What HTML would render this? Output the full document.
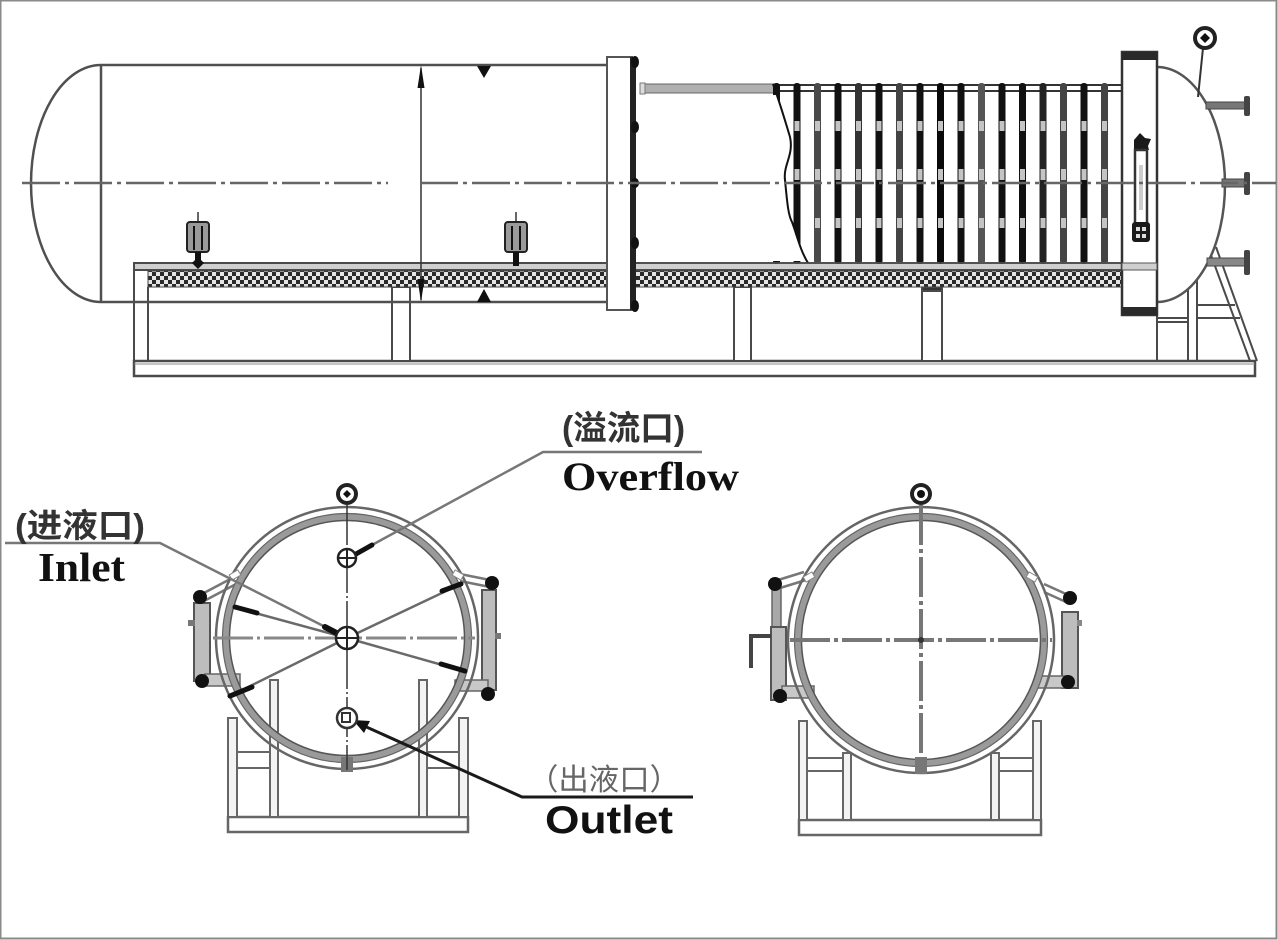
<!DOCTYPE html>
<html><head><meta charset="utf-8"><style>
html,body{margin:0;padding:0;background:#fff;}
svg{display:block;}
</style></head><body>
<svg width="1278" height="940" viewBox="0 0 1278 940" xmlns="http://www.w3.org/2000/svg">
<defs>
<pattern id="chk" width="8" height="8" patternUnits="userSpaceOnUse">
<rect width="8" height="8" fill="#e6e6e6"/>
<rect width="4" height="4" fill="#2a2a2a"/>
<rect x="4" y="4" width="4" height="4" fill="#2a2a2a"/>
</pattern>
</defs>
<rect x="0.5" y="0.5" width="1276" height="938" fill="#fff" stroke="#8a8a8a" stroke-width="2"/>

<!-- ================= TOP VIEW ================= -->
<g stroke="#4a4a4a" stroke-width="2" fill="none">
<rect x="134" y="263" width="1023" height="7" fill="#cfcfcf"/>
<line x1="134" y1="263" x2="134" y2="376"/>
<line x1="148" y1="287" x2="148" y2="361"/>
<rect x="134" y="361" width="1121" height="15" fill="#fff" stroke-width="2.5"/>
<line x1="134" y1="364" x2="1255" y2="364" stroke="#888" stroke-width="1"/>
<rect x="392" y="287" width="18" height="74" fill="#fff"/>
<rect x="734" y="287" width="17" height="74" fill="#fff"/>
<rect x="922" y="287" width="20" height="74" fill="#fff"/>
<rect x="922" y="287" width="20" height="4" fill="#333"/>
<line x1="1157" y1="315" x2="1157" y2="361"/>
<line x1="1188" y1="280" x2="1188" y2="361"/>
<line x1="1197" y1="275" x2="1197" y2="361"/>
<line x1="1157" y1="318" x2="1188" y2="318"/>
<line x1="1157" y1="322" x2="1188" y2="322"/>
<line x1="1197" y1="305" x2="1235" y2="305"/>
<line x1="1197" y1="318" x2="1240" y2="318"/>
<line x1="1208" y1="247" x2="1250" y2="361"/>
<line x1="1216" y1="247" x2="1257" y2="361"/>
</g>
<rect x="148" y="271" width="974" height="16" fill="url(#chk)" stroke="#444" stroke-width="1"/>

<g stroke="#505050" stroke-width="2.5" fill="none">
<line x1="101" y1="65" x2="607" y2="65"/>
<line x1="101" y1="302" x2="607" y2="302"/>
<line x1="101" y1="65" x2="101" y2="302"/>
<path d="M101,65 A70 118.5 0 0 0 101,302"/>
</g>
<line x1="421" y1="68" x2="421" y2="300" stroke="#333" stroke-width="1.5"/>
<path d="M421,65 L417.5,88 L424.5,88 Z" fill="#111"/>
<path d="M421,302 L417.5,279 L424.5,279 Z" fill="#111"/>
<path d="M477,66 L491,66 L484,78 Z" fill="#111"/>
<path d="M477,302 L491,302 L484,289 Z" fill="#111"/>

<g>
<line x1="198" y1="212" x2="198" y2="222" stroke="#333" stroke-width="1.5"/>
<rect x="187" y="222" width="22" height="30" rx="3" fill="#9a9a9a" stroke="#222" stroke-width="2"/>
<line x1="194" y1="226" x2="194" y2="250" stroke="#111" stroke-width="2"/>
<line x1="202" y1="226" x2="202" y2="250" stroke="#111" stroke-width="2"/>
<rect x="195" y="252" width="6" height="9" fill="#111"/>
<path d="M198,257 L204,263 L198,269 L192,263 Z" fill="#111"/>
<line x1="516" y1="212" x2="516" y2="222" stroke="#333" stroke-width="1.5"/>
<rect x="505" y="222" width="22" height="30" rx="3" fill="#9a9a9a" stroke="#222" stroke-width="2"/>
<line x1="512" y1="226" x2="512" y2="250" stroke="#111" stroke-width="2"/>
<line x1="520" y1="226" x2="520" y2="250" stroke="#111" stroke-width="2"/>
<rect x="513" y="252" width="6" height="14" fill="#111"/>
</g>

<rect x="607" y="57" width="25" height="253" fill="#fff" stroke="#555" stroke-width="2"/>
<rect x="630" y="57" width="6" height="253" fill="#222"/>
<g fill="#111">
<ellipse cx="635" cy="62" rx="4" ry="6"/>
<ellipse cx="635" cy="127" rx="4" ry="6"/>
<ellipse cx="635" cy="183" rx="4" ry="5"/>
<ellipse cx="635" cy="243" rx="4" ry="6"/>
<ellipse cx="635" cy="306" rx="4" ry="6"/>
</g>
<rect x="640" y="84" width="136" height="9" fill="#b0b0b0" stroke="#666" stroke-width="1"/>
<rect x="640" y="83" width="5" height="11" fill="#ddd" stroke="#777" stroke-width="1"/>
<line x1="775" y1="85" x2="1122" y2="85" stroke="#333" stroke-width="2"/>
<line x1="775" y1="91" x2="1122" y2="91" stroke="#333" stroke-width="2"/>

<g>
<rect x="773" y="83" width="7" height="181" rx="3" fill="#111"/>
<rect x="793.5" y="83" width="7" height="181" rx="3" fill="#111"/>
<rect x="814" y="83" width="7" height="181" rx="3" fill="#4a4a4a"/>
<rect x="834.5" y="83" width="7" height="181" rx="3" fill="#111"/>
<rect x="855" y="83" width="7" height="181" rx="3" fill="#333"/>
<rect x="875.5" y="83" width="7" height="181" rx="3" fill="#111"/>
<rect x="896" y="83" width="7" height="181" rx="3" fill="#444"/>
<rect x="916.5" y="83" width="7" height="181" rx="3" fill="#111"/>
<rect x="937" y="83" width="7" height="181" rx="3" fill="#0a0a0a"/>
<rect x="957.5" y="83" width="7" height="181" rx="3" fill="#111"/>
<rect x="978" y="83" width="7" height="181" rx="3" fill="#555"/>
<rect x="998.5" y="83" width="7" height="181" rx="3" fill="#111"/>
<rect x="1019" y="83" width="7" height="181" rx="3" fill="#111"/>
<rect x="1039.5" y="83" width="7" height="181" rx="3" fill="#222"/>
<rect x="1060" y="83" width="7" height="181" rx="3" fill="#444"/>
<rect x="1080.5" y="83" width="7" height="181" rx="3" fill="#111"/>
<rect x="1101" y="83" width="7" height="181" rx="3" fill="#444"/>
</g>
<g fill="#c4c4c4">
<rect x="794.5" y="121" width="5" height="10"/><rect x="794.5" y="169" width="5" height="11"/>
<rect x="815" y="121" width="5" height="10"/><rect x="815" y="169" width="5" height="11"/><rect x="815" y="218" width="5" height="10"/>
<rect x="835.5" y="121" width="5" height="10"/><rect x="835.5" y="169" width="5" height="11"/><rect x="835.5" y="218" width="5" height="10"/>
<rect x="856" y="121" width="5" height="10"/><rect x="856" y="169" width="5" height="11"/><rect x="856" y="218" width="5" height="10"/>
<rect x="876.5" y="121" width="5" height="10"/><rect x="876.5" y="169" width="5" height="11"/><rect x="876.5" y="218" width="5" height="10"/>
<rect x="897" y="121" width="5" height="10"/><rect x="897" y="169" width="5" height="11"/><rect x="897" y="218" width="5" height="10"/>
<rect x="917.5" y="121" width="5" height="10"/><rect x="917.5" y="169" width="5" height="11"/><rect x="917.5" y="218" width="5" height="10"/>
<rect x="938" y="121" width="5" height="10"/><rect x="938" y="169" width="5" height="11"/><rect x="938" y="218" width="5" height="10"/>
<rect x="958.5" y="121" width="5" height="10"/><rect x="958.5" y="169" width="5" height="11"/><rect x="958.5" y="218" width="5" height="10"/>
<rect x="979" y="121" width="5" height="10"/><rect x="979" y="169" width="5" height="11"/><rect x="979" y="218" width="5" height="10"/>
<rect x="999.5" y="121" width="5" height="10"/><rect x="999.5" y="169" width="5" height="11"/><rect x="999.5" y="218" width="5" height="10"/>
<rect x="1020" y="121" width="5" height="10"/><rect x="1020" y="169" width="5" height="11"/><rect x="1020" y="218" width="5" height="10"/>
<rect x="1040.5" y="121" width="5" height="10"/><rect x="1040.5" y="169" width="5" height="11"/><rect x="1040.5" y="218" width="5" height="10"/>
<rect x="1061" y="121" width="5" height="10"/><rect x="1061" y="169" width="5" height="11"/><rect x="1061" y="218" width="5" height="10"/>
<rect x="1081.5" y="121" width="5" height="10"/><rect x="1081.5" y="169" width="5" height="11"/><rect x="1081.5" y="218" width="5" height="10"/>
<rect x="1102" y="121" width="5" height="10"/><rect x="1102" y="169" width="5" height="11"/><rect x="1102" y="218" width="5" height="10"/>
</g>
<path d="M760,95 L777,95 C780,105 784,118 790,137 C794,155 783,165 785,180 C787,200 788,215 792,222 C797,235 800,250 807,261 L760,261 Z" fill="#fff"/>
<path d="M773,84 C777,95 782,110 790,137 C794,155 783,165 785,180 C787,200 788,215 792,222 C797,235 800,250 808,263" fill="none" stroke="#111" stroke-width="2"/>
<line x1="640" y1="263" x2="1122" y2="263" stroke="#555" stroke-width="1.5"/>

<path d="M1157,67 A68 117.5 0 0 1 1157,302" fill="#fff" stroke="#555" stroke-width="2.5"/>
<rect x="1122" y="52" width="35" height="263" fill="#fff" stroke="#333" stroke-width="2.5"/>
<rect x="1122" y="52" width="35" height="8" fill="#2a2a2a"/>
<rect x="1122" y="307" width="35" height="8" fill="#2a2a2a"/>
<rect x="1122" y="263" width="35" height="7" fill="#cfcfcf" stroke="#555" stroke-width="1"/>
<path d="M1134,150 L1134,140 L1140,133 L1145,138 L1151,139 L1148,146 L1149,150 Z" fill="#1a1a1a"/>
<rect x="1135" y="150" width="12" height="74" fill="#fff" stroke="#333" stroke-width="2.5"/>
<rect x="1139" y="165" width="4" height="45" fill="#ccc"/>
<rect x="1132" y="222" width="18" height="20" rx="3" fill="#1a1a1a"/>
<rect x="1136" y="227" width="4" height="4" fill="#ddd"/><rect x="1142" y="227" width="4" height="4" fill="#ddd"/>
<rect x="1136" y="234" width="4" height="4" fill="#ddd"/><rect x="1142" y="234" width="4" height="4" fill="#ddd"/>
<g>
<rect x="1206" y="102" width="40" height="7" fill="#777" stroke="#444" stroke-width="1"/>
<rect x="1244" y="96" width="6" height="20" rx="2" fill="#444"/>
<rect x="1222" y="179" width="24" height="8" fill="#777" stroke="#444" stroke-width="1"/>
<rect x="1244" y="172" width="6" height="23" rx="2" fill="#444"/>
<rect x="1207" y="258" width="39" height="8" fill="#888" stroke="#444" stroke-width="1"/>
<rect x="1244" y="250" width="6" height="25" rx="2" fill="#444"/>
</g>
<line x1="1203" y1="48" x2="1198" y2="97" stroke="#333" stroke-width="2"/>
<circle cx="1205" cy="38" r="12" fill="#222"/>
<circle cx="1205" cy="38" r="8" fill="#fff"/>
<path d="M1205,33 L1210,38 L1205,43 L1200,38 Z" fill="#111"/>

<line x1="22" y1="183" x2="388" y2="183" stroke="#666" stroke-width="2.5" stroke-dasharray="38 5 4 5"/>
<line x1="420" y1="183" x2="1276" y2="183" stroke="#666" stroke-width="2.5" stroke-dasharray="38 5 4 5"/>

<!-- ================= LEFT END VIEW ================= -->
<g stroke="#666" stroke-width="2" fill="#f3f3f3">
<rect x="228" y="817" width="240" height="15" fill="#fff" stroke-width="2.5"/>
<rect x="228" y="718" width="9" height="99"/>
<rect x="459" y="718" width="9" height="99"/>
<rect x="270" y="680" width="8" height="137"/>
<rect x="419" y="680" width="8" height="137"/>
<line x1="237" y1="752" x2="270" y2="752"/><line x1="237" y1="768" x2="270" y2="768"/>
<line x1="427" y1="752" x2="459" y2="752"/><line x1="427" y1="768" x2="459" y2="768"/>
</g>
<g>
<path d="M202,594 L236,576 M204,601 L238,583" stroke="#777" stroke-width="2.5"/>
<rect x="194" y="603" width="16" height="78" fill="#bdbdbd" stroke="#555" stroke-width="2"/>
<rect x="188" y="620" width="7" height="6" fill="#777"/>
<rect x="205" y="674" width="35" height="12" fill="#c8c8c8" stroke="#666" stroke-width="1.5"/>
<circle cx="200" cy="597" r="7" fill="#111"/>
<circle cx="202" cy="681" r="7" fill="#111"/>
<path d="M490,580 L460,574 M490,587 L460,581" stroke="#777" stroke-width="2.5"/>
<rect x="482" y="590" width="14" height="100" fill="#bdbdbd" stroke="#555" stroke-width="2"/>
<rect x="495" y="633" width="6" height="6" fill="#777"/>
<rect x="455" y="680" width="33" height="11" fill="#c8c8c8" stroke="#666" stroke-width="1.5"/>
<circle cx="492" cy="583" r="7" fill="#111"/>
<circle cx="488" cy="694" r="7" fill="#111"/>
</g>
<circle cx="347" cy="638" r="131" fill="none" stroke="#666" stroke-width="2.5"/>
<circle cx="347" cy="638" r="121" fill="none" stroke="#9a9a9a" stroke-width="7"/>
<circle cx="347" cy="638" r="124.5" fill="none" stroke="#666" stroke-width="1.2"/>
<circle cx="347" cy="638" r="117.5" fill="none" stroke="#555" stroke-width="1.5"/>
<rect x="341" y="757" width="12" height="15" fill="#777"/>
<rect x="230" y="572" width="10" height="6" fill="#fff" stroke="#888" stroke-width="1" transform="rotate(-30 235 575)"/>
<rect x="453" y="572" width="10" height="6" fill="#fff" stroke="#888" stroke-width="1" transform="rotate(30 458 575)"/>
<line x1="213" y1="638" x2="475" y2="638" stroke="#888" stroke-width="3" stroke-dasharray="40 4 3 4"/>
<line x1="347" y1="505" x2="347" y2="770" stroke="#333" stroke-width="1.5" stroke-dasharray="40 3 2 3"/>
<g stroke="#6a6a6a" stroke-width="2.5">
<line x1="347" y1="638" x2="233" y2="607"/>
<line x1="347" y1="638" x2="228" y2="697"/>
<line x1="347" y1="638" x2="463" y2="583"/>
<line x1="347" y1="638" x2="467" y2="672"/>
</g>
<g stroke="#111" stroke-width="5" stroke-linecap="round">
<line x1="235" y1="607" x2="257" y2="613"/>
<line x1="230" y1="696" x2="252" y2="687"/>
<line x1="461" y1="584" x2="442" y2="591"/>
<line x1="465" y1="671" x2="441" y2="664"/>
</g>
<polyline points="5,543 160,543 347,638" fill="none" stroke="#777" stroke-width="2.5"/>
<line x1="325" y1="627" x2="350" y2="640" stroke="#111" stroke-width="6" stroke-linecap="round"/>
<polyline points="702,452 543,452 372,545" fill="none" stroke="#777" stroke-width="2.5"/>
<line x1="372" y1="545" x2="356" y2="554" stroke="#111" stroke-width="5" stroke-linecap="round"/>
<polyline points="693,797 522,797 362,725" fill="none" stroke="#1a1a1a" stroke-width="3"/>
<path d="M353,720 L370,721 L364,733 Z" fill="#111"/>
<circle cx="347" cy="494" r="11" fill="#222"/>
<circle cx="347" cy="494" r="7" fill="#fff"/>
<path d="M347,490 L351,494 L347,498 L343,494 Z" fill="#111"/>
<circle cx="347" cy="558" r="9" fill="#fff" stroke="#222" stroke-width="2.5"/>
<path d="M338,558 H356 M347,549 V567" stroke="#222" stroke-width="2"/>
<circle cx="347" cy="638" r="11" fill="#fff" stroke="#222" stroke-width="2.5"/>
<path d="M336,638 H358 M347,627 V649" stroke="#222" stroke-width="2"/>
<circle cx="347" cy="718" r="10" fill="#fff" stroke="#333" stroke-width="2.5"/>
<rect x="342" y="713" width="8" height="9" fill="none" stroke="#333" stroke-width="2"/>

<!-- ================= RIGHT END VIEW ================= -->
<g stroke="#666" stroke-width="2" fill="#f3f3f3">
<rect x="799" y="820" width="242" height="15" fill="#fff" stroke-width="2.5"/>
<rect x="799" y="721" width="8" height="99"/>
<rect x="1033" y="721" width="8" height="99"/>
<rect x="843" y="753" width="8" height="67"/>
<rect x="991" y="753" width="8" height="67"/>
<line x1="807" y1="758" x2="843" y2="758"/><line x1="807" y1="771" x2="843" y2="771"/>
<line x1="999" y1="758" x2="1033" y2="758"/><line x1="999" y1="771" x2="1033" y2="771"/>
</g>
<g>
<path d="M778,580 L804,572 M780,588 L806,580" stroke="#777" stroke-width="2.5"/>
<rect x="772" y="588" width="9" height="40" fill="#a8a8a8" stroke="#666" stroke-width="1.5"/>
<rect x="771" y="627" width="15" height="73" fill="#bdbdbd" stroke="#555" stroke-width="2"/>
<polyline points="771,636 751,636 751,668" fill="none" stroke="#444" stroke-width="4"/>
<rect x="782" y="686" width="32" height="12" fill="#c8c8c8" stroke="#666" stroke-width="1.5"/>
<circle cx="775" cy="584" r="7" fill="#111"/>
<circle cx="780" cy="696" r="7" fill="#111"/>
<path d="M1066,594 L1044,584 M1066,602 L1044,592" stroke="#777" stroke-width="2.5"/>
<rect x="1062" y="612" width="16" height="76" fill="#bdbdbd" stroke="#555" stroke-width="2"/>
<rect x="1077" y="620" width="5" height="6" fill="#888"/>
<rect x="1035" y="676" width="31" height="12" fill="#c8c8c8" stroke="#666" stroke-width="1.5"/>
<circle cx="1070" cy="598" r="7" fill="#111"/>
<circle cx="1068" cy="682" r="7" fill="#111"/>
</g>
<circle cx="921" cy="640" r="133" fill="none" stroke="#666" stroke-width="2.5"/>
<circle cx="921" cy="640" r="123" fill="none" stroke="#9a9a9a" stroke-width="7"/>
<circle cx="921" cy="640" r="126.5" fill="none" stroke="#666" stroke-width="1.2"/>
<circle cx="921" cy="640" r="119.5" fill="none" stroke="#555" stroke-width="1.5"/>
<rect x="915" y="757" width="12" height="17" fill="#777"/>
<rect x="804" y="574" width="10" height="6" fill="#fff" stroke="#888" stroke-width="1" transform="rotate(-30 809 577)"/>
<rect x="1027" y="574" width="10" height="6" fill="#fff" stroke="#888" stroke-width="1" transform="rotate(30 1032 577)"/>
<line x1="790" y1="640" x2="1052" y2="640" stroke="#777" stroke-width="4" stroke-dasharray="40 4 4 4"/>
<line x1="921" y1="505" x2="921" y2="772" stroke="#777" stroke-width="4" stroke-dasharray="40 4 4 4"/>
<circle cx="921" cy="640" r="3" fill="#333"/>
<circle cx="921" cy="494" r="11" fill="#222"/>
<circle cx="921" cy="494" r="7" fill="#fff"/>
<circle cx="921" cy="494" r="4" fill="#111"/>

<!-- ================= TEXT ================= -->
<text x="562" y="440" font-family="'Liberation Sans','Noto Sans CJK SC',sans-serif" font-size="34" font-weight="bold" fill="#333" textLength="123" lengthAdjust="spacingAndGlyphs">(溢流口)</text>
<text x="562" y="490" font-family="'Liberation Serif',serif" font-size="40" font-weight="bold" fill="#111" textLength="177" lengthAdjust="spacingAndGlyphs">Overflow</text>
<text x="15" y="537" font-family="'Liberation Sans','Noto Sans CJK SC',sans-serif" font-size="33" font-weight="bold" fill="#333" textLength="130" lengthAdjust="spacingAndGlyphs">(进液口)</text>
<text x="38" y="581" font-family="'Liberation Serif',serif" font-size="41" font-weight="bold" fill="#111" textLength="87" lengthAdjust="spacingAndGlyphs">Inlet</text>
<text x="528" y="790" font-family="'Liberation Sans','Noto Sans CJK SC',sans-serif" font-size="30" fill="#666" textLength="152" lengthAdjust="spacingAndGlyphs">（出液口）</text>
<text x="545" y="833" font-family="'Liberation Sans',sans-serif" font-size="39" font-weight="bold" fill="#111" textLength="128" lengthAdjust="spacingAndGlyphs">Outlet</text>
</svg>
</body></html>
